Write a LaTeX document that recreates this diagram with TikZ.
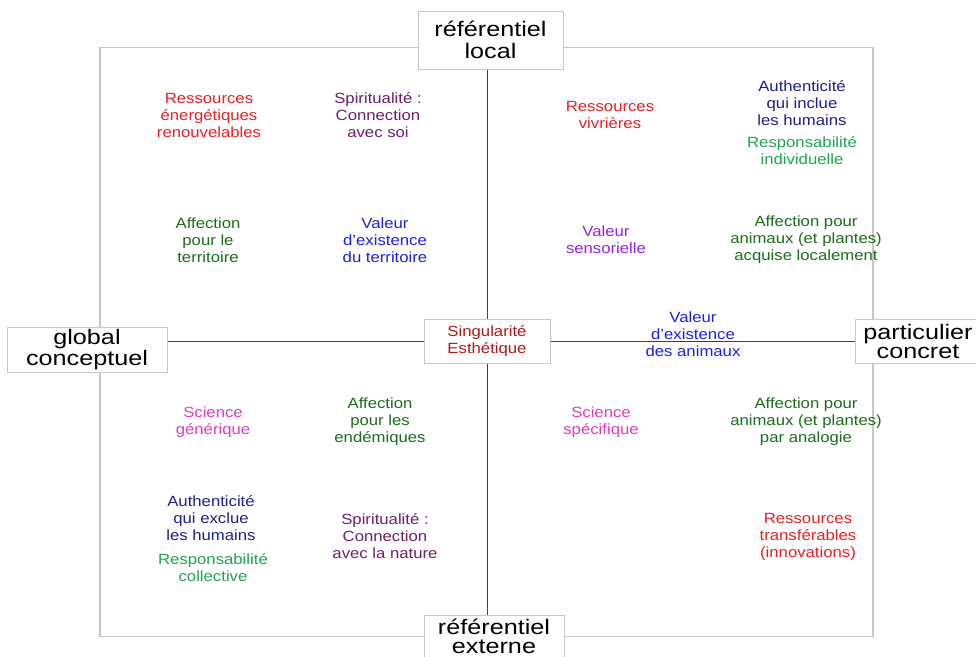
\documentclass[tikz,border=0pt]{standalone}
\usepackage{fontspec}
\setmainfont{Liberation Sans}[FakeStretch=1.13]
\newfontfamily\polefont{Liberation Sans}[FakeStretch=1.2]
\usepackage{xcolor}
\definecolor{ressourcecolor}{RGB}{235,30,35}
\definecolor{spiritcolor}{RGB}{110,30,110}
\definecolor{authcolor}{RGB}{30,30,140}
\definecolor{respcolor}{RGB}{30,165,80}
\definecolor{affectcolor}{RGB}{25,110,25}
\definecolor{valeurcolor}{RGB}{30,30,235}
\definecolor{sensorcolor}{RGB}{150,30,230}
\definecolor{sciencecolor}{RGB}{225,60,190}
\definecolor{singularcolor}{RGB}{175,25,25}
\newcommand{\cadrecolor}{black!22!white}
\newcommand{\axecolor}{black!75!white}

\begin{document}
\begin{tikzpicture}[x=1pt, y=-1pt,
    pole/.style={draw=\cadrecolor, line width=1pt, fill=white, align=center, inner sep=0pt,
        font=\polefont\fontsize{21}{19}\selectfont},
    item/.style={align=center, inner sep=0pt, font=\fontsize{14.8}{17}\selectfont}]
        \useasboundingbox (0,0) rectangle (976,656);

        % frame
        \draw[\cadrecolor, line width=1.5pt] (100,47.5) rectangle (873,636.5);

        % poles
        \node[pole, minimum width=145pt, minimum height=58pt, font=\polefont\fontsize{21}{22}\selectfont] (haut) at (490.5,40) {référentiel\\local};
        \node[pole, minimum width=160pt, minimum height=45pt] (gauche) at (87,349.5) {global\\conceptuel};
        \node[pole, minimum width=126pt, minimum height=44pt] (droite) at (918,341.5) {particulier\\concret};
        \node[pole, minimum width=140pt, minimum height=42pt] (bas) at (494,636) {référentiel\\externe};
        \node[pole, minimum width=126pt, minimum height=44pt, font=\fontsize{14.8}{17}\selectfont,
            text=singularcolor] (centre) at (487,341) {Singularité\\Esthétique};

        % axes
        \draw[\axecolor, line width=1pt] (haut.south -| centre.center) -- (centre.north);
        \draw[\axecolor, line width=1pt] (centre.south) -- (bas.north -| centre.center);
        \draw[\axecolor, line width=1pt] (gauche.east |- centre.center) -- (centre.west);
        \draw[\axecolor, line width=1pt] (centre.east) -- (droite.west |- centre.center);

        % global / local
        \node[item, text=ressourcecolor] (resEnergie) at (209,115) {Ressources\\énergétiques\\renouvelables};
        \node[item, text=spiritcolor] (spiritSoi) at (378,115) {Spiritualité :\\Connection\\avec soi};
        \node[item, text=affectcolor] (affectTerritoire) at (208,240) {Affection\\pour le\\territoire};
        \node[item, text=valeurcolor] (valeurTerritoire) at (385,240) {Valeur\\d’existence\\du territoire};

        % particulier / local
        \node[item, text=ressourcecolor] (resVivrieres) at (610,115) {Ressources\\vivrières};
        \node[item, text=authcolor] (authInclue) at (802,103) {Authenticité\\qui inclue\\les humains};
        \node[item, text=respcolor] (respIndiv) at (802,150.5) {Responsabilité\\individuelle};
        \node[item, text=sensorcolor] (valeurSensor) at (606,240) {Valeur\\sensorielle};
        \node[item, text=affectcolor] (affectLocal) at (806,240) {Affection pour\\animaux (et plantes)\\acquise localement};
        \node[item, text=valeurcolor] (valeurAnimaux) at (693,334) {Valeur\\d’existence\\des animaux};

        % global / externe
        \node[item, text=sciencecolor] (scienceGen) at (213,422.5) {Science\\générique};
        \node[item, text=affectcolor] (affectEndem) at (380,422) {Affection\\pour les\\endémiques};
        \node[item, text=authcolor] (authExclue) at (211,518) {Authenticité\\qui exclue\\les humains};
        \node[item, text=respcolor] (respColl) at (213,567.5) {Responsabilité\\collective};
        \node[item, text=spiritcolor] (spiritNature) at (385,536) {Spiritualité :\\Connection\\avec la nature};

        % particulier / externe
        \node[item, text=sciencecolor] (scienceSpec) at (601,422.5) {Science\\spécifique};
        \node[item, text=affectcolor] (affectAnalogie) at (806,422) {Affection pour\\animaux (et plantes)\\par analogie};
        \node[item, text=ressourcecolor] (resTransfer) at (808,537) {Ressources\\transférables\\(innovations)};
    \end{tikzpicture}
\end{document}
